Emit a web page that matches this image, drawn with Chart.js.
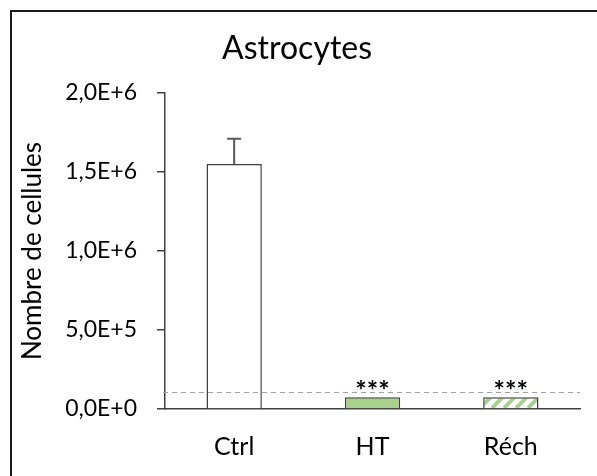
<!DOCTYPE html>
<html><head><meta charset="utf-8">
<script src="https://cdn.jsdelivr.net/npm/chart.js@4/dist/chart.umd.min.js"></script>
<style>html,body{margin:0;padding:0;background:#fff}#wrap{width:597px;height:476px}</style>
</head><body><div id="wrap"><canvas id="c" width="597" height="476"></canvas></div>
<script>
const categories = ['Ctrl', 'HT', 'Réch'];
const cellCounts = [1550000, 75000, 75000];
const cellErrors = [160000, 0, 0];
const significance = ['', '***', '***'];
const thresholdValue = [110000];
const yTicks = [0, 500000, 1000000, 1500000, 2000000];
const chartTitle = 'Astrocytes';
const yAxisTitle = 'Nombre de cellules';

const FONT = 'Lato, "Open Sans", sans-serif';
const EDGE = '#404040';

function stripePattern() {
  const s = 12;
  const p = document.createElement('canvas');
  p.width = s; p.height = s;
  const g = p.getContext('2d');
  g.fillStyle = '#ffffff'; g.fillRect(0, 0, s, s);
  g.strokeStyle = '#a9d18e'; g.lineWidth = 4;
  g.beginPath();
  for (let k = -1; k <= 1; k++) {
    g.moveTo(k * s, s); g.lineTo(k * s + s, 0);
  }
  g.stroke();
  return document.getElementById('c').getContext('2d').createPattern(p, 'repeat');
}

function fmtSci(v) {
  if (v === 0) return '0,0E+0';
  const e = Math.floor(Math.log10(v));
  const m = v / Math.pow(10, e);
  return m.toFixed(1).replace('.', ',') + 'E+' + e;
}

const decor = {
  id: 'decor',
  beforeDraw(chart) {
    const c = chart.ctx;
    c.save();
    c.fillStyle = '#fff'; c.fillRect(0, 0, chart.width, chart.height);
    c.strokeStyle = '#1a1a1a'; c.lineWidth = 2;
    c.beginPath();
    c.moveTo(11, chart.height); c.lineTo(11, 11); c.lineTo(chart.width, 11);
    c.stroke();
    c.restore();
  },
  afterDatasetsDraw(chart) {
    const c = chart.ctx, y = chart.scales.y, x = chart.scales.x;
    const meta = chart.getDatasetMeta(0);
    c.save();
    // threshold dashed line
    const ty = Math.round(y.getPixelForValue(thresholdValue[0])) + 0.5;
    c.strokeStyle = '#a0a0a0'; c.lineWidth = 1; c.setLineDash([5, 4]);
    c.beginPath(); c.moveTo(x.left - 2, ty); c.lineTo(x.right, ty); c.stroke();
    c.setLineDash([]);
    // error bars
    c.strokeStyle = '#595959'; c.lineWidth = 2;
    meta.data.forEach((bar, i) => {
      if (!cellErrors[i]) return;
      const top = y.getPixelForValue(cellCounts[i] + cellErrors[i]);
      c.beginPath();
      c.moveTo(bar.x, bar.y); c.lineTo(bar.x, top);
      c.moveTo(bar.x - 7, top); c.lineTo(bar.x + 7, top);
      c.stroke();
    });
    // significance stars
    c.fillStyle = '#000'; c.font = 'bold 27px ' + FONT;
    c.textAlign = 'center'; c.textBaseline = 'middle';
    meta.data.forEach((bar, i) => {
      if (!significance[i]) return;
      c.fillText(significance[i], bar.x, bar.y - 6);
    });
    c.restore();
  }
};

new Chart(document.getElementById('c'), {
  type: 'bar',
  data: {
    labels: categories,
    datasets: [{
      data: cellCounts,
      backgroundColor: ['#ffffff', '#a9d18e', stripePattern()],
      borderColor: EDGE,
      borderWidth: 1.5,
      borderSkipped: 'bottom',
      barPercentage: 0.4,
      categoryPercentage: 1
    }]
  },
  options: {
    responsive: false,
    animation: false,
    layout: { padding: { left: 14, right: 17, top: 0, bottom: 0 } },
    plugins: {
      legend: { display: false },
      tooltip: { enabled: false },
      title: {
        display: true, text: chartTitle, color: '#000',
        font: { family: FONT, size: 32, weight: 'normal' },
        padding: { top: 29, bottom: 25.6 }
      }
    },
    scales: {
      x: {
        grid: { display: false, drawTicks: false },
        border: { display: true, color: EDGE, width: 1.5 },
        ticks: { color: '#000', font: { family: FONT, size: 25 }, padding: 23 },
        afterFit(s) { s.height = 67; }
      },
      y: {
        min: 0, max: 2000000,
        afterBuildTicks(s) { s.ticks = yTicks.map(v => ({ value: v })); },
        grid: { drawOnChartArea: false, drawTicks: true, tickLength: 8, color: EDGE, lineWidth: 1.5 },
        border: { display: true, color: EDGE, width: 1.5 },
        ticks: { color: '#000', font: { family: FONT, size: 23 }, padding: 20, callback: v => fmtSci(v) },
        title: { display: true, text: yAxisTitle, color: '#000', font: { family: FONT, size: 26 }, padding: { top: 3, bottom: 0 } },
        afterFit(s) { s.width = 151; }
      }
    }
  },
  plugins: [decor]
});
</script></body></html>
